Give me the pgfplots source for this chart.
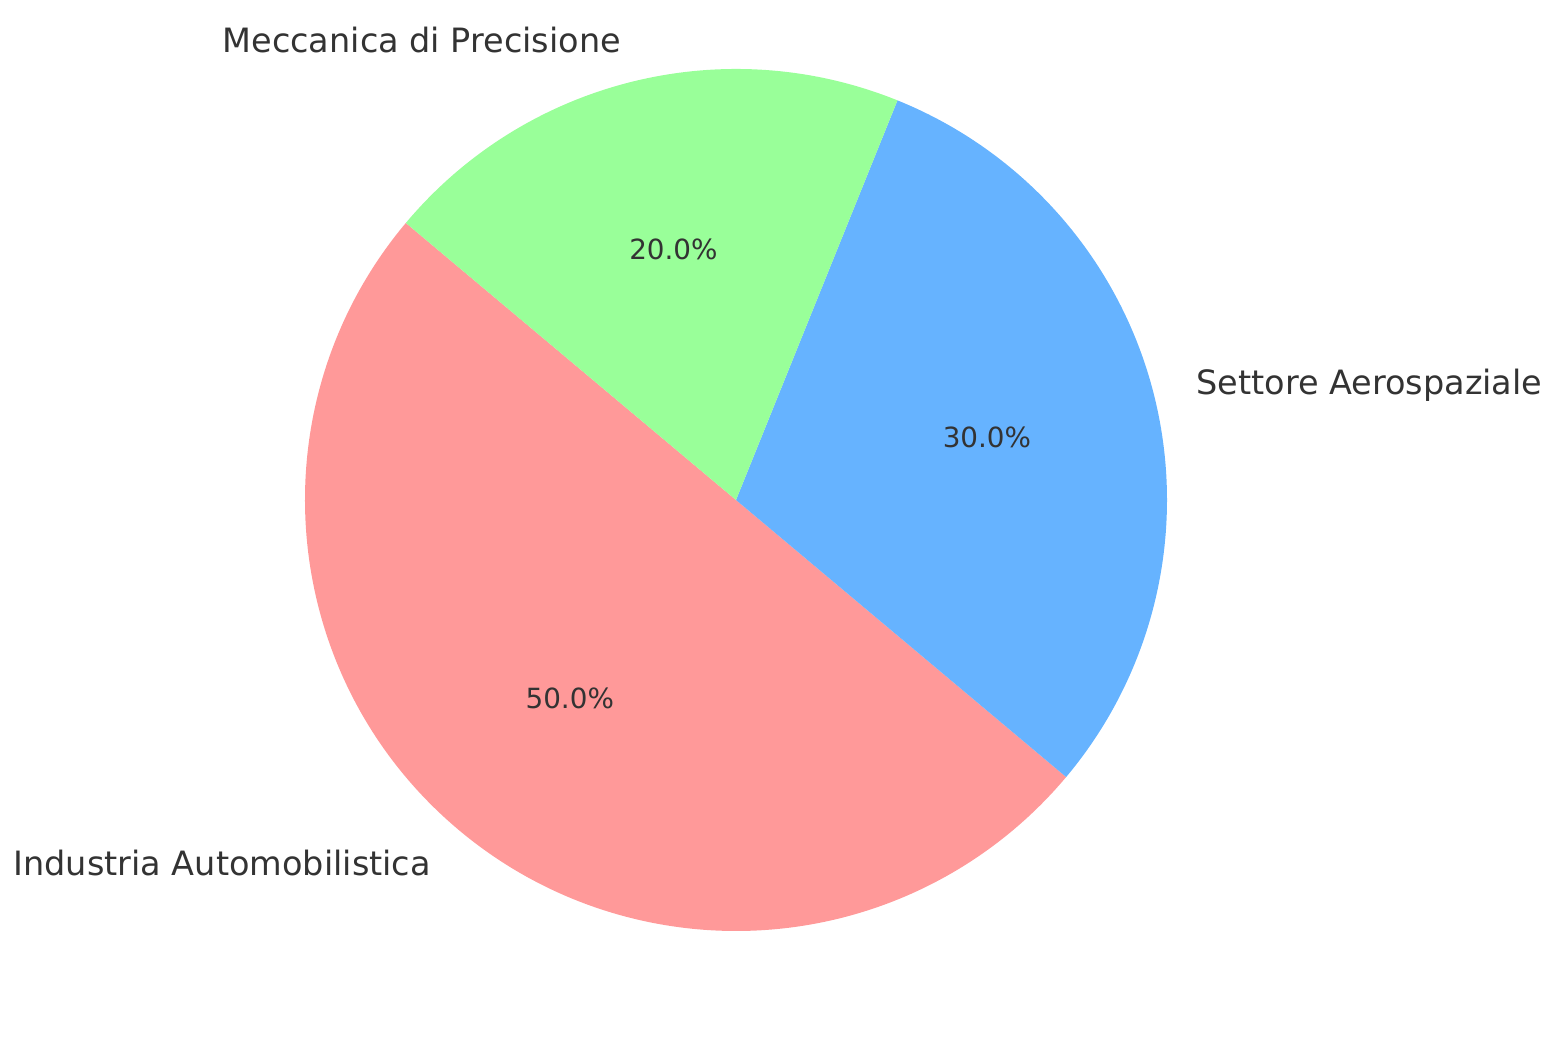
\documentclass[border=0pt]{standalone}
\usepackage{pgfplots}
\pgfplotsset{compat=1.18}
\usepackage{pgfplotstable}
\usepackage{fontspec}
\setmainfont{DejaVu Sans}

\definecolor{pieRed}{HTML}{FF9999}
\definecolor{pieBlue}{HTML}{66B3FF}
\definecolor{pieGreen}{HTML}{99FF99}
\definecolor{txt}{HTML}{333333}

% share of each sector, counterclockwise from 140 degrees
\pgfplotstableread[col sep=comma]{
label,value,color
Industria Automobilistica,50,pieRed
Settore Aerospaziale,30,pieBlue
Meccanica di Precisione,20,pieGreen
}\piedata

\tikzset{
  outer/.style={font=\fontsize{16.75}{20}\selectfont, text=txt, inner sep=0pt},
  inner/.style={font=\fontsize{13.9}{16}\selectfont, text=txt, inner sep=0pt},
}

\begin{document}
\begin{tikzpicture}
\begin{axis}[
  scale only axis,
  width=780pt, height=529.5pt,
  xmin=0, xmax=1560, ymin=0, ymax=1059,
  hide axis, clip=false,
]
\coordinate (SW) at (rel axis cs:0,0);
\coordinate (NE) at (rel axis cs:1,1);
\pgfplotstablegetrowsof{\piedata}
\pgfmathtruncatemacro\lastrow{\pgfplotsretval-1}
\xdef\startang{140}
\foreach \i in {0,...,\lastrow}{
  \pgfplotstablegetelem{\i}{value}\of\piedata \let\val\pgfplotsretval
  \pgfplotstablegetelem{\i}{label}\of\piedata \let\lab\pgfplotsretval
  \pgfplotstablegetelem{\i}{color}\of\piedata \let\col\pgfplotsretval
  \pgfmathsetmacro\endang{\startang+3.6*\val}
  \pgfmathsetmacro\midang{(\startang+\endang)/2}
  \pgfmathsetmacro\lx{736+474.1*cos(\midang)}
  \pgfmathsetmacro\ly{559+474.1*sin(\midang)}
  \pgfmathsetmacro\px{736+258.6*cos(\midang)}
  \pgfmathsetmacro\py{559+258.6*sin(\midang)}
  \pgfmathsetmacro\cs{cos(\midang)}
  \ifdim\cs pt<0pt \def\anc{east}\else\def\anc{west}\fi
  \pgfmathprintnumberto[fixed,fixed zerofill,precision=1,assume math mode=true]{\val}\pct
  \edef\temp{%
    \noexpand\fill[\col] (axis cs:736,559) -- ++(\startang:215.5pt)
      arc[start angle=\startang, end angle=\endang, radius=215.5pt] -- cycle;
    \noexpand\node[outer, anchor=\anc] at (axis cs:\lx,\ly) {\lab};
    \noexpand\node[inner] at (axis cs:\px,\py) {\pct\noexpand\%};
  }\temp
  \xdef\startang{\endang}
}
\end{axis}
\pgfresetboundingbox
\path (SW) rectangle (NE);
\end{tikzpicture}
\end{document}
